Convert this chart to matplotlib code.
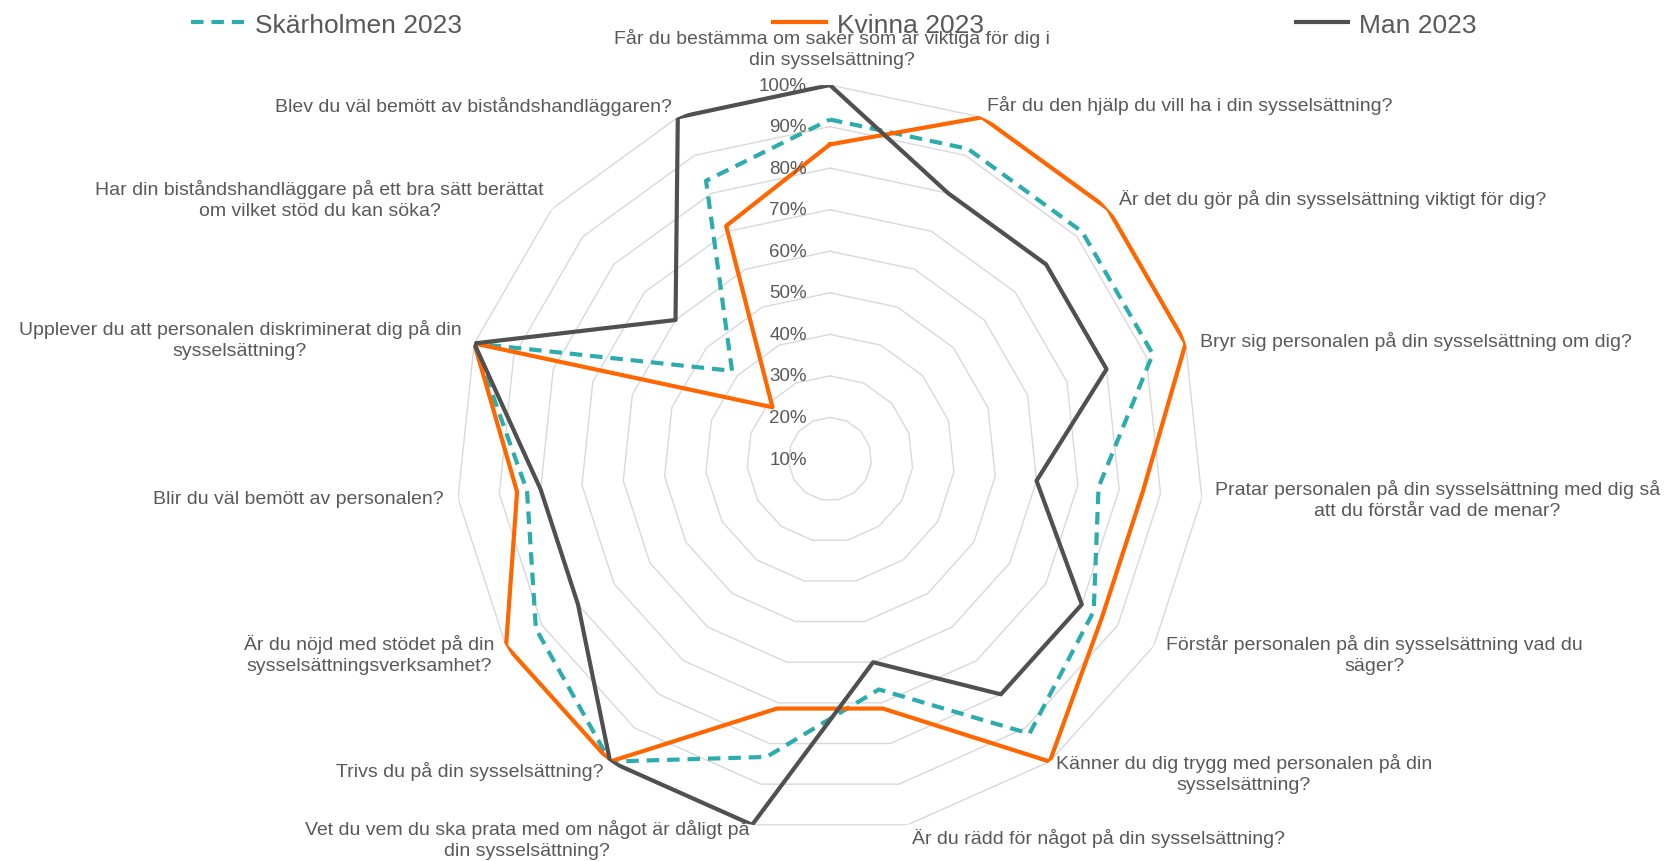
import numpy as np
import matplotlib
matplotlib.use("Agg")
import matplotlib.pyplot as plt

plt.rcParams['font.family'] = ['Liberation Sans', 'DejaVu Sans']


# Data
#----------------------------------------------------------------------------------------------------
categories = [
    "Får du bestämma om saker som är viktiga för dig i\ndin sysselsättning?",
    "Får du den hjälp du vill ha i din sysselsättning?",
    "Är det du gör på din sysselsättning viktigt för dig?",
    "Bryr sig personalen på din sysselsättning om dig?",
    "Pratar personalen på din sysselsättning med dig så\natt du förstår vad de menar?",
    "Förstår personalen på din sysselsättning vad du\nsäger?",
    "Känner du dig trygg med personalen på din\nsysselsättning?",
    "Är du rädd för något på din sysselsättning?",
    "Vet du vem du ska prata med om något är dåligt på\ndin sysselsättning?",
    "Trivs du på din sysselsättning?",
    "Är du nöjd med stödet på din\nsysselsättningsverksamhet?",
    "Blir du väl bemött av personalen?",
    "Upplever du att personalen diskriminerat dig på din\nsysselsättning?",
    "Har din biståndshandläggare på ett bra sätt berättat\nom vilket stöd du kan söka?",
    "Blev du väl bemött av biståndshandläggaren?",
]

skarholmen = [0.917, 0.917, 0.917, 0.917, 0.75, 0.833, 0.917, 0.667, 0.833, 1.0, 0.917, 0.833, 1.0, 0.417, 0.833]
kvinna     = [0.857, 1.0, 1.0, 1.0, 0.857, 0.857, 1.0, 0.714, 0.714, 1.0, 1.0, 0.857, 1.0, 0.286, 0.714]
man        = [1.0, 0.8, 0.8, 0.8, 0.6, 0.8, 0.8, 0.6, 1.0, 1.0, 0.8, 0.8, 1.0, 0.6, 1.0]

series_names = ["Skärholmen 2023", "Kvinna 2023", "Man 2023"]

ring_levels = [0.1, 0.2, 0.3, 0.4, 0.5, 0.6, 0.7, 0.8, 0.9, 1.0]


# Label placement (offset in pixels from outer vertex, alignment)
#----------------------------------------------------------------------------------------------------
label_style = [
    ((2, 37), 'center'),
    ((5, 13), 'left'),
    ((11, 10), 'left'),
    ((14, 3), 'left'),
    ((13, -1), 'left'),
    ((12, -8), 'left'),
    ((6, -11), 'left'),
    ((4, -13), 'left'),
    ((-3, -14), 'right'),
    ((-7, -9), 'right'),
    ((-12, -8), 'right'),
    ((-14, 0), 'right'),
    ((-13, 4), 'right'),
    ((-8, 10), 'right'),
    ((-6, 12), 'right'),
]

text_color = '#595959'
grid_color = '#D9D9D9'


# Figure
#----------------------------------------------------------------------------------------------------
fig = plt.figure(figsize=(16.67, 8.62), dpi=100)

ax = fig.add_axes([0.2735, 0.0325, 0.4487, 0.8677], projection='polar')

ax.set_theta_offset(np.pi / 2)
ax.set_theta_direction(-1)

n = len(categories)
angles = np.linspace(0, 2 * np.pi, n, endpoint=False)
closed = np.append(angles, angles[0])

# polygon grid
for lvl in ring_levels[1:]:
    ax.plot(closed, [lvl] * (n + 1), color=grid_color, lw=1.0, zorder=1)

ax.plot(closed, skarholmen + skarholmen[:1], color='#2CACAC', lw=3.0,
        linestyle=(0, (3, 1.9)), label=series_names[0], zorder=3)
ax.plot(closed, kvinna + kvinna[:1], color='#FF6600', lw=3.0,
        label=series_names[1], zorder=4)
ax.plot(closed, man + man[:1], color='#505050', lw=3.0,
        label=series_names[2], zorder=5)

ax.set_ylim(0.1, 1.0)
ax.grid(False)
ax.spines['polar'].set_visible(False)
ax.set_xticks([])
ax.set_yticks([])
ax.patch.set_alpha(0)


# ring labels
for lvl in ring_levels:
    ax.annotate(f'{int(round(lvl * 100))}%', xy=(0, lvl), xytext=(-23, 0),
                textcoords='offset pixels', ha='right', va='center',
                fontsize=13.5, color=text_color, zorder=6)

# category labels
for ang, cat, (off, ha) in zip(angles, categories, label_style):
    ax.annotate(cat, xy=(ang, 1.0), xytext=off, textcoords='offset pixels',
                ha=ha, va='center', multialignment='center', linespacing=1.3,
                fontsize=14, color=text_color, annotation_clip=False)


# Legend
#----------------------------------------------------------------------------------------------------
fig.legend(loc='center', bbox_to_anchor=(0.1147, 0.95, 0.771, 0.0408),
           bbox_transform=fig.transFigure, mode='expand', ncol=3, frameon=False,
           fontsize=19, handlelength=2.0, handletextpad=0.4, borderpad=0,
           borderaxespad=0, labelcolor=text_color)

fig.savefig('out.png', dpi=100)
